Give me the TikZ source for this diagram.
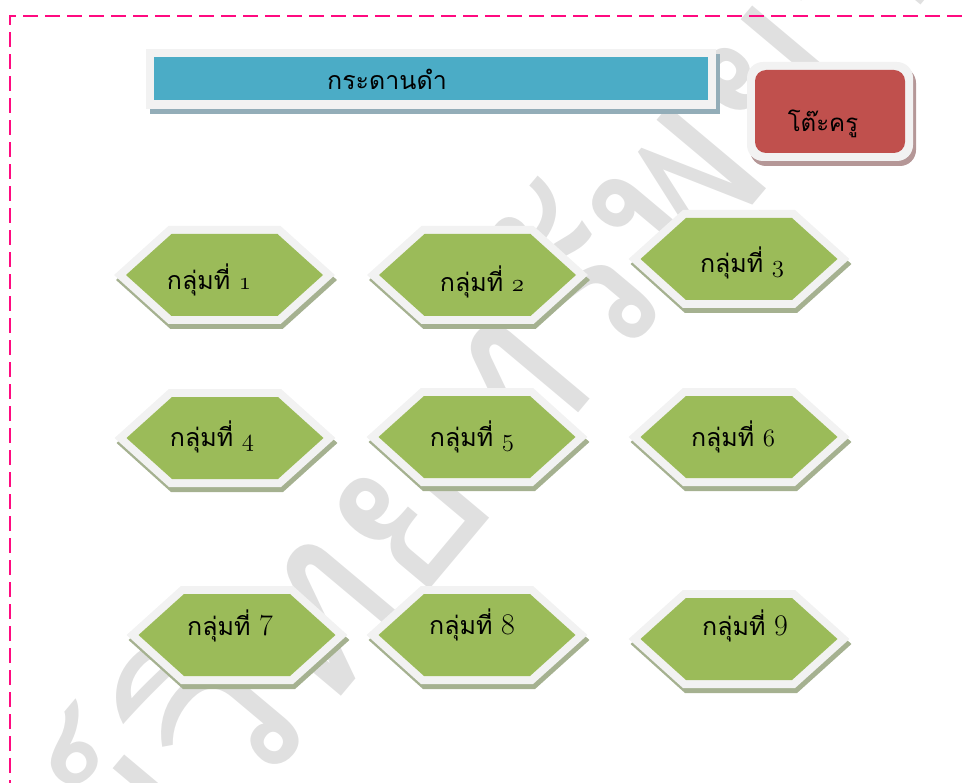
\documentclass[tikz,border=0pt]{standalone}
\usepackage{fontspec}
\newfontfamily\thaifont[Script=Thai]{Loma}

\definecolor{boardblue}{HTML}{4BACC6}
\definecolor{boardshadow}{HTML}{93ADB8}
\definecolor{deskred}{HTML}{C0504D}
\definecolor{deskshadow}{HTML}{B59797}
\definecolor{hexgreen}{HTML}{9BBB59}
\definecolor{hexshadowc}{HTML}{A5B190}
\definecolor{framegray}{HTML}{F2F2F2}
\definecolor{borderpink}{HTML}{FF0A80}
\definecolor{markgray}{HTML}{E0E0E0}

\tikzset{
  hexframe/.style={draw=framegray, line width=16pt, line join=miter},
  hexshade/.style={fill=hexshadowc, draw=hexshadowc, line width=16pt, line join=miter},
  hexbody/.style={fill=hexgreen},
  grouplabel/.style={anchor=base, inner sep=0pt, font=\thaifont\fontsize{25}{30}\selectfont},
  boardlabel/.style={anchor=base, inner sep=0pt, font=\thaifont\fontsize{25}{30}\selectfont},
  desklabel/.style={anchor=base, inner sep=0pt, font=\thaifont\fontsize{24}{29}\selectfont},
  pagefence/.style={draw=borderpink, line width=2.5pt, dash pattern=on 15pt off 7pt},
  watermark/.style={text=markgray, inner sep=0pt, font=\thaifont\fontsize{230}{230}\selectfont}
}

% digits set a little larger than the Thai words
\newcommand\grpnum[1]{{\rmfamily\fontsize{30}{30}\selectfont #1}}

% one group table: shadow, light frame, green hexagon
\newcommand\hexcell[1]{%
  \path[hexshade, shift={#1}, xshift=2pt, yshift=-5pt]
    (-98.5,0) -- (-53,-41) -- (53,-41) -- (98.5,0) -- (53,41) -- (-53,41) -- cycle;
  \path[hexframe, shift={#1}]
    (-98.5,0) -- (-53,-41) -- (53,-41) -- (98.5,0) -- (53,41) -- (-53,41) -- cycle;
  \path[hexbody, shift={#1}]
    (-98.5,0) -- (-53,-41) -- (53,-41) -- (98.5,0) -- (53,41) -- (-53,41) -- cycle;
}

\begin{document}
\begin{tikzpicture}[x=1pt, y=-1pt]
  \useasboundingbox (0,0) rectangle (963,783);

  % faint background watermark
  \begin{scope}
    \clip (0,0) rectangle (963,783);
    \node[watermark, rotate=50] (mark) at (480,420) {ศูนย์วิทยทรัพยากร};
  \end{scope}

  % dashed page fence
  \draw[pagefence] (10,795) -- (10,16) -- (975,16);

  % blackboard
  \fill[boardshadow] (150,54) rectangle (720,114);
  \fill[framegray] (146,49) rectangle (716,109);
  \fill[boardblue] (154,57) rectangle (708,100);
  \node[boardlabel] (board) at (387,90) {กระดานดำ};

  % teacher's desk
  \fill[deskshadow, rounded corners=16pt] (750,67) rectangle (916,166);
  \fill[framegray, rounded corners=16pt] (747,62) rectangle (913,161);
  \fill[deskred, rounded corners=11pt] (755,70) rectangle (905,153);
  \node[desklabel] (desk) at (823,132) {โต๊ะครู};

  % student groups
  \hexcell{(224.5,275)}
  \hexcell{(477.5,275)}
  \hexcell{(739,259)}
  \hexcell{(225,438)}
  \hexcell{(477,437)}
  \hexcell{(739,437)}
  \hexcell{(237,635)}
  \hexcell{(477,635)}
  \hexcell{(739,639)}

  \node[grouplabel] (g1) at (209,290) {กลุ่มที่ \grpnum{\legacyoldstylenums{1}}};
  \node[grouplabel] (g2) at (482,292) {กลุ่มที่ \grpnum{\legacyoldstylenums{2}}};
  \node[grouplabel] (g3) at (742,273) {กลุ่มที่ \grpnum{\legacyoldstylenums{3}}};
  \node[grouplabel] (g4) at (212,446) {กลุ่มที่ \grpnum{\legacyoldstylenums{4}}};
  \node[grouplabel] (g5) at (472,446) {กลุ่มที่ \grpnum{\legacyoldstylenums{5}}};
  \node[grouplabel] (g6) at (733,446) {กลุ่มที่ \grpnum{\legacyoldstylenums{6}}};
  \node[grouplabel] (g7) at (230,635) {กลุ่มที่ \grpnum{7}};
  \node[grouplabel] (g8) at (472,634) {กลุ่มที่ \grpnum{8}};
  \node[grouplabel] (g9) at (745,635) {กลุ่มที่ \grpnum{9}};
\end{tikzpicture}
\end{document}
